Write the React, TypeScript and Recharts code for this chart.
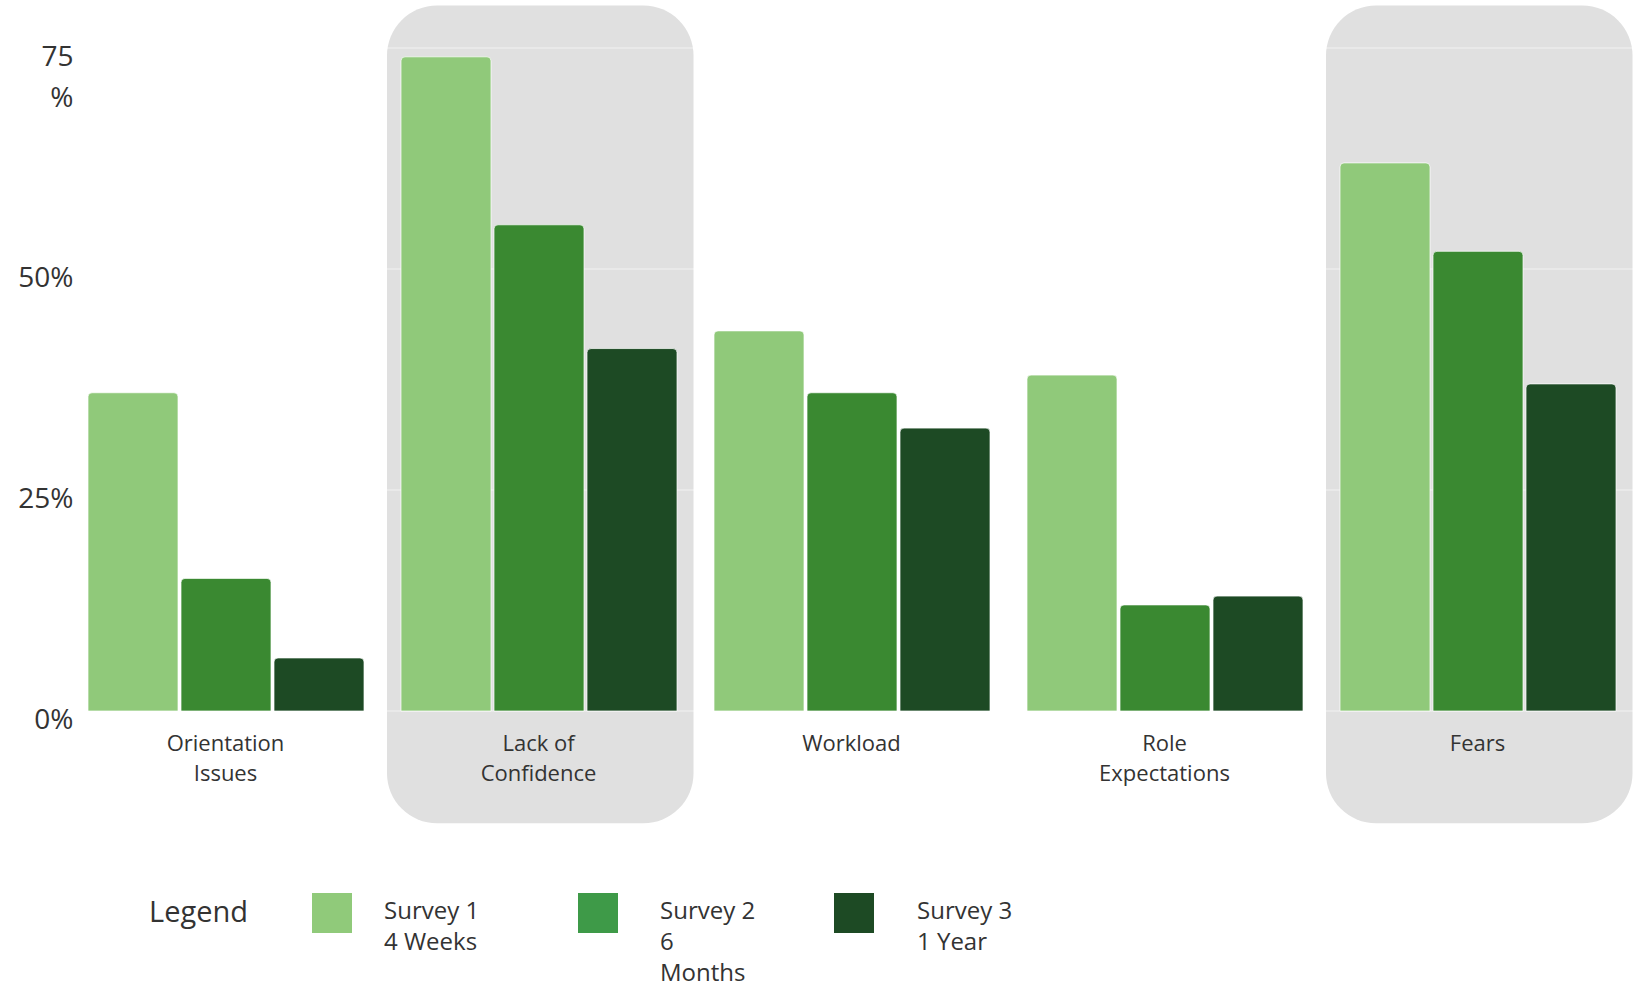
import React from 'react';
import {
  BarChart,
  Bar,
  XAxis,
  YAxis,
  CartesianGrid,
  ReferenceArea,
  Legend,
} from 'recharts';

// Concern categories surveyed among new graduates
const categories = [
  'Orientation Issues',
  'Lack of Confidence',
  'Workload',
  'Role Expectations',
  'Fears',
];

// Share of respondents reporting each concern (%)
const survey1 = [36, 74, 43, 38, 62];
const survey2 = [15, 55, 36, 12, 52];
const survey3 = [6, 41, 32, 13, 37];

const seriesKeys = ['survey1', 'survey2', 'survey3'];
const seriesNames = ['Survey 1 4 Weeks', 'Survey 2 6 Months', 'Survey 3 1 Year'];
const legendLines = [
  ['Survey 1', '4 Weeks'],
  ['Survey 2', '6', 'Months'],
  ['Survey 3', '1 Year'],
];

// Categories drawn on a rounded grey panel
const highlighted = ['Lack of Confidence', 'Fears'];

const yTicks = [0, 25, 50, 75];
const yTickLines = [['0%'], ['25%'], ['50%'], ['75', '%']];

const barColors = ['#90C97A', '#3A8931', '#1D4A24'];
const swatchColors = ['#90CA7A', '#3E9A48', '#1D4A24'];

const FONT = "'Open Sans', 'Noto Sans', sans-serif";
const TEXT = '#333333';
const PANEL = '#E0E0E0';
// vertical extent of the highlight panels, in axis units
const PANEL_Y = [-12.7, 79.8];

const data = categories.map((category, i) => ({
  category,
  survey1: survey1[i],
  survey2: survey2[i],
  survey3: survey3[i],
}));

// Greedy word wrap by character count
function wrapLabel(label: string, maxChars: number): string[] {
  const words = label.split(' ');
  const lines: string[] = [];
  let current = '';
  words.forEach((w) => {
    const candidate = current ? current + ' ' + w : w;
    if (current && candidate.length > maxChars) {
      lines.push(current);
      current = w;
    } else {
      current = candidate;
    }
  });
  if (current) lines.push(current);
  return lines;
}

const PanelShape = (props: any) => {
  const { x, y, width, height } = props;
  return (
    <rect
      x={x + 5}
      y={y}
      width={width - 6.5}
      height={height}
      rx={50}
      ry={50}
      fill={PANEL}
    />
  );
};

const YTick = (props: any) => {
  const { x, y, payload } = props;
  const idx = yTicks.indexOf(payload.value);
  const lines = yTickLines[idx] || [String(payload.value)];
  return (
    <text
      x={x + 4.5}
      y={y + 8.5}
      textAnchor="end"
      fontSize={28}
      fontFamily={FONT}
      fill={TEXT}
    >
      {lines.map((line, i) => (
        <tspan key={i} x={x + 4.5} dy={i === 0 ? '0.35em' : 41}>
          {line}
        </tspan>
      ))}
    </text>
  );
};

const CategoryTick = (props: any) => {
  const { x, y, payload } = props;
  const lines = wrapLabel(String(payload.value), 10);
  return (
    <text
      x={x}
      y={y + 24.5}
      textAnchor="middle"
      fontSize={22}
      fontFamily={FONT}
      fill={TEXT}
    >
      {lines.map((line, i) => (
        <tspan key={i} x={x} dy={i === 0 ? '0.71em' : 30}>
          {line}
        </tspan>
      ))}
    </text>
  );
};

const itemGaps = [32, 42, 43];
const itemWidths = [266, 256, 220];

const LegendContent = (props: any) => {
  const payload = props.payload || [];
  return (
    <div
      style={{
        display: 'flex',
        alignItems: 'flex-start',
        fontFamily: FONT,
        color: TEXT,
      }}
    >
      <div style={{ width: 163, fontSize: 29, lineHeight: '40px', marginTop: -2 }}>
        Legend
      </div>
      {payload.map((entry: any, i: number) => (
        <div
          key={i}
          style={{ display: 'flex', alignItems: 'flex-start', width: itemWidths[i] }}
        >
          <div
            style={{
              width: 40,
              height: 40,
              background: swatchColors[i],
              flex: 'none',
            }}
          />
          <div
            style={{
              marginLeft: itemGaps[i],
              marginTop: 1,
              fontSize: 24,
              lineHeight: '31px',
            }}
          >
            {legendLines[i].map((line, j) => (
              <div key={j}>{line}</div>
            ))}
          </div>
        </div>
      ))}
    </div>
  );
};

export default function App() {
  return (
    <div
      style={{
        position: 'absolute',
        left: 0,
        top: 0,
        width: 1642,
        height: 989,
        background: '#ffffff',
        fontFamily: FONT,
      }}
    >
      <BarChart
        width={1642}
        height={989}
        data={data}
        margin={{ top: 48, right: 8, bottom: 178, left: 0 }}
        barGap={3}
        barCategoryGap={19}
      >
        {highlighted.map((c) => (
          <ReferenceArea
            key={c}
            x1={c}
            x2={c}
            y1={PANEL_Y[0]}
            y2={PANEL_Y[1]}
            ifOverflow="visible"
            shape={PanelShape}
            zIndex={-150}
          />
        ))}
        <CartesianGrid vertical={false} stroke="#FFFFFF" strokeOpacity={0.6} strokeWidth={1.2} />
        <XAxis
          dataKey="category"
          axisLine={false}
          tickLine={false}
          tickSize={0}
          tickMargin={0}
          interval={0}
          height={100}
          tick={CategoryTick}
        />
        <YAxis
          domain={[0, 75]}
          ticks={yTicks}
          width={69}
          axisLine={false}
          tickLine={false}
          tickSize={0}
          tickMargin={0}
          tick={YTick}
        />
        {seriesKeys.map((key, i) => (
          <Bar
            key={key}
            dataKey={key}
            name={seriesNames[i]}
            fill={barColors[i]}
            stroke="#ffffff"
            strokeOpacity={0.7}
            strokeWidth={1}
            radius={[4, 4, 0, 0]}
            isAnimationActive={false}
          />
        ))}
        <Legend
          verticalAlign="middle"
          layout="horizontal"
          content={LegendContent}
          wrapperStyle={{ left: 149, top: 893, width: 'auto', height: 'auto' }}
        />
      </BarChart>
    </div>
  );
}
